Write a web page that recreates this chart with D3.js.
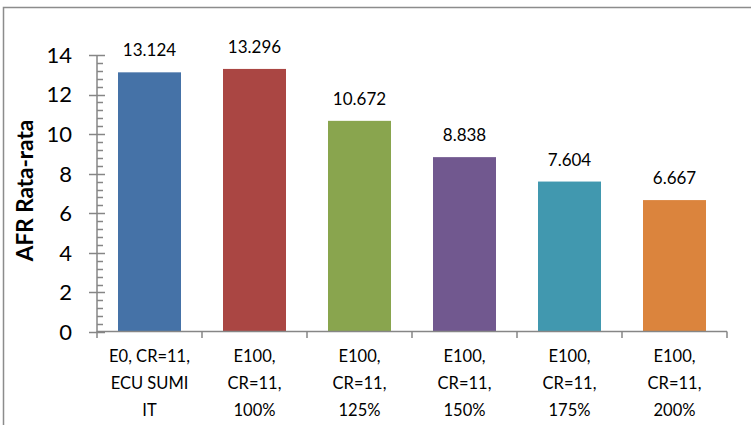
<!DOCTYPE html>
<html>
<head>
<meta charset="utf-8">
<script src="https://cdn.jsdelivr.net/npm/d3@7"></script>
<style>
  html, body { margin: 0; padding: 0; background: #fff; }
  svg { display: block; }
  text { font-family: Lato, "Open Sans", sans-serif; fill: #000; }
</style>
</head>
<body>
<script>
// Average AFR per configuration
const categories = [
  ["E0, CR=11,", "ECU SUMI", "IT"],
  ["E100,", "CR=11,", "100%"],
  ["E100,", "CR=11,", "125%"],
  ["E100,", "CR=11,", "150%"],
  ["E100,", "CR=11,", "175%"],
  ["E100,", "CR=11,", "200%"]
];
const afrValues = [13.124, 13.296, 10.672, 8.838, 7.604, 6.667];
const valueLabels = ["13.124", "13.296", "10.672", "8.838", "7.604", "6.667"];
const barColors = ["#4572A7", "#AA4643", "#89A54E", "#71588F", "#4198AF", "#DB843D"];
const yTicks = [0, 2, 4, 6, 8, 10, 12, 14];
const yTitle = "AFR Rata-rata";

const W = 751, H = 425;
const plot = { left: 97, right: 727, top: 55, bottom: 332 };

const svg = d3.select("body").append("svg")
  .attr("width", W).attr("height", H);

// outer chart frame (top and left edges visible)
svg.append("path")
  .attr("d", `M3.5,${H} V7.5 H${W}`)
  .attr("fill", "none").attr("stroke", "#8c8c8c").attr("stroke-width", 1.5);

const x = d3.scaleBand()
  .domain(d3.range(categories.length))
  .range([plot.left, plot.right])
  .paddingInner(0.4).paddingOuter(0.2);

const y = d3.scaleLinear().domain([0, 14]).range([plot.bottom, plot.top]);

// bars
svg.append("g").selectAll("rect")
  .data(afrValues)
  .join("rect")
  .attr("x", (d, i) => x(i))
  .attr("width", x.bandwidth())
  .attr("y", d => y(d))
  .attr("height", d => y(0) - y(d))
  .attr("fill", (d, i) => barColors[i]);

// value labels
svg.append("g").selectAll("text")
  .data(afrValues)
  .join("text")
  .attr("x", (d, i) => x(i) + x.bandwidth() / 2)
  .attr("y", d => y(d) - 16)
  .attr("text-anchor", "middle")
  .attr("font-size", 17)
  .text((d, i) => valueLabels[i]);

const axisColor = "#868686";

// y axis: minor ticks every 0.4, major ticks every 2
const yAxis = svg.append("g");
yAxis.append("line")
  .attr("x1", plot.left).attr("x2", plot.left)
  .attr("y1", y(14)).attr("y2", y(0))
  .attr("stroke", axisColor).attr("stroke-width", 1.5);
const minorTicks = d3.range(0, 14.001, 0.4).filter(v => Math.abs(v / 2 - Math.round(v / 2)) > 1e-6);
yAxis.selectAll("line.minor")
  .data(minorTicks)
  .join("line").attr("class", "minor")
  .attr("x1", plot.left).attr("x2", plot.left + 6)
  .attr("y1", d => Math.round(y(d)) + 0.5).attr("y2", d => Math.round(y(d)) + 0.5)
  .attr("stroke", axisColor).attr("stroke-width", 1.5);
yAxis.selectAll("line.major")
  .data(yTicks)
  .join("line").attr("class", "major")
  .attr("x1", plot.left - 8).attr("x2", plot.left + 8)
  .attr("y1", d => Math.round(y(d)) + 0.5).attr("y2", d => Math.round(y(d)) + 0.5)
  .attr("stroke", axisColor).attr("stroke-width", 1.5);
yAxis.selectAll("text")
  .data(yTicks)
  .join("text")
  .attr("x", plot.left - 25)
  .attr("y", d => y(d))
  .attr("dy", "0.36em")
  .attr("text-anchor", "end")
  .attr("font-size", 22)
  .text(d => d);

// y axis title
svg.append("text")
  .attr("transform", `translate(33,${(plot.top + plot.bottom) / 2 - 3}) rotate(-90)`)
  .attr("text-anchor", "middle")
  .attr("font-size", 22.5)
  .attr("font-weight", "bold")
  .text(yTitle);

// x axis with category boundary ticks
const xAxis = svg.append("g");
xAxis.append("line")
  .attr("x1", plot.left).attr("x2", plot.right)
  .attr("y1", plot.bottom - 0.5).attr("y2", plot.bottom - 0.5)
  .attr("stroke", axisColor).attr("stroke-width", 1.5);
const bounds = d3.range(categories.length + 1).map(i => plot.left + i * (plot.right - plot.left) / categories.length);
xAxis.selectAll("line.tick")
  .data(bounds)
  .join("line").attr("class", "tick")
  .attr("x1", d => d).attr("x2", d => d)
  .attr("y1", plot.bottom - 0.5).attr("y2", plot.bottom + 6)
  .attr("stroke", axisColor).attr("stroke-width", 1.5);

const catLabels = xAxis.selectAll("text")
  .data(categories)
  .join("text")
  .attr("text-anchor", "middle")
  .attr("font-size", 16.5);
catLabels.selectAll("tspan")
  .data((d, i) => d.map(line => ({ line, i })))
  .join("tspan")
  .attr("x", d => x(d.i) + x.bandwidth() / 2)
  .attr("y", (d, j) => 362 + j * 27)
  .text(d => d.line);
</script>
</body>
</html>
